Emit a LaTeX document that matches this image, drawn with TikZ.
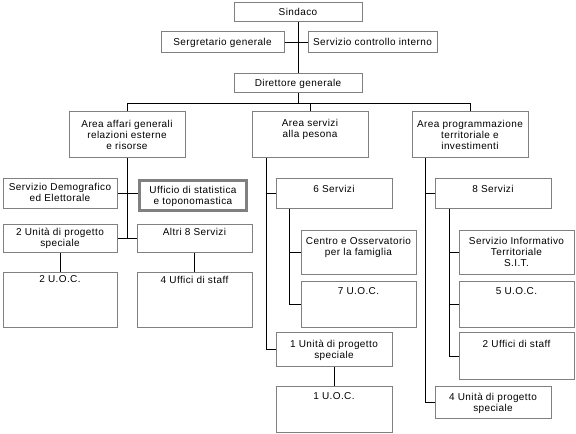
\documentclass[tikz,border=0pt]{standalone}
\usepackage{fontspec}
\setmainfont{Liberation Sans}[LetterSpace=4.0]
\usetikzlibrary{positioning, calc}
\definecolor{boxgray}{RGB}{128, 128, 128}

\begin{document}
\begin{tikzpicture}[x=0.75pt, y=-0.75pt,
  box/.style 2 args={draw=boxgray, line width=0.75pt, inner sep=0pt,
    minimum width=#1*0.75pt, minimum height=#2*0.75pt},
  lbl/.style={anchor=north, align=center, inner sep=0pt,
    font=\fontsize{7.5}{8.6}\selectfont},
  tx/.style 2 args={label={[lbl, yshift=-#1*0.75pt]north:#2}},
  link/.style={black, line width=0.75pt}]
  % 画布：像素坐标，原点在左上角
  \fill[white] (0,0) rectangle (576,434);
  \useasboundingbox (0,0) rectangle (576,434);

  % 顶层
  \node[box={128}{19}, tx={5}{Sindaco}] (sindaco) at (298,12.5) {};
  \node[box={123}{21}, tx={6}{Sergretario generale}] (segr) at (222.5,42.5) {};
  \node[box={129}{21}, tx={6}{Servizio controllo interno}] (controllo) at (372.5,42.5) {};
  \node[box={128}{19}, tx={5}{Direttore generale}] (direttore) at (298,83.5) {};

  % 三个 Area
  \node[box={116}{46}, tx={8}{Area affari generali\\relazioni esterne\\e risorse}] (areaaff) at (127,135) {};
  \node[box={116}{46}, tx={7}{Area servizi\\alla pesona}] (areaserv) at (310,135) {};
  \node[box={116}{46}, tx={8}{Area programmazione\\territoriale e\\investimenti}] (areaprog) at (470,135) {};

  % 左列
  \node[box={114}{30}, tx={4}{Servizio Demografico\\ed Elettorale}] (demog) at (60,194) {};
  \node[box={107}{30}, line width=2.25pt, tx={7}{Ufficio di statistica\\e toponomastica}] (ufficio) at (193,195.5) {};
  \node[box={114}{28}, tx={3}{2 Unità di progetto\\speciale}] (unita2) at (60,239) {};
  \node[box={115}{28}, tx={3}{Altri 8 Servizi}] (altri8) at (194.5,239) {};
  \node[box={114}{55}, tx={3}{2 U.O.C.}] (uoc2) at (60,300.5) {};
  \node[box={115}{55}, tx={3}{4 Uffici di staff}] (staff4) at (194.5,300.5) {};

  % 中列
  \node[box={116}{30}, tx={6}{6 Servizi}] (serv6) at (334,194) {};
  \node[box={115}{44}, tx={6}{Centro e Osservatorio\\per la famiglia}] (centro) at (358.5,253) {};
  \node[box={115}{46}, tx={6}{7 U.O.C.}] (uoc7) at (358.5,305) {};
  \node[box={116}{34}, tx={7}{1 Unità di progetto\\speciale}] (unita1) at (334,350) {};
  \node[box={116}{46}, tx={6}{1 U.O.C.}] (uoc1) at (334,410) {};

  % 右列
  \node[box={116}{30}, tx={6}{8 Servizi}] (serv8) at (493,194) {};
  \node[box={115}{44}, tx={6}{Servizio Informativo\\Territoriale\\S.I.T.}] (sit) at (516.5,253) {};
  \node[box={115}{46}, tx={6}{5 U.O.C.}] (uoc5) at (516.5,305) {};
  \node[box={115}{47}, tx={7}{2 Uffici di staff}] (staff2) at (516.5,356.5) {};
  \node[box={116}{32}, tx={6}{4 Unità di progetto\\speciale}] (unita4) at (493,403) {};

  % 上层连线
  \draw[link] (sindaco) -- (direttore);
  \draw[link] (segr) -- (controllo);
  \draw[link] (direttore.south) -- ++(0,10) -| (areaaff.north);
  \draw[link] (direttore.south) -- ++(0,10) -| (areaserv.north);
  \draw[link] (direttore.south) -- ++(0,10) -| (areaprog.north);

  % 左列连线
  \draw[link] (areaaff.south) -- (areaaff.south |- altri8.west);
  \draw[link] (demog.east) -- (demog.east -| ufficio.west);
  \draw[link] (unita2) -- (altri8);
  \draw[link] (unita2) -- (uoc2);
  \draw[link] (altri8) -- (staff4);

  % 中列连线
  \draw[link] ($(areaserv.south west)+(15,0)$) |- (serv6.west);
  \draw[link] ($(areaserv.south west)+(15,0)$) |- (unita1.west);
  \draw[link] ($(serv6.south west)+(14,0)$) |- (centro.west);
  \draw[link] ($(serv6.south west)+(14,0)$) |- (uoc7.west);
  \draw[link] (unita1) -- (uoc1);

  % 右列连线
  \draw[link] ($(areaprog.south west)+(14,0)$) |- (serv8.west);
  \draw[link] ($(areaprog.south west)+(14,0)$) |- (unita4.west);
  \draw[link] ($(serv8.south west)+(15,0)$) |- (sit.west);
  \draw[link] ($(serv8.south west)+(15,0)$) |- (uoc5.west);
  \draw[link] ($(serv8.south west)+(15,0)$) |- (staff2.west);
\end{tikzpicture}
\end{document}
